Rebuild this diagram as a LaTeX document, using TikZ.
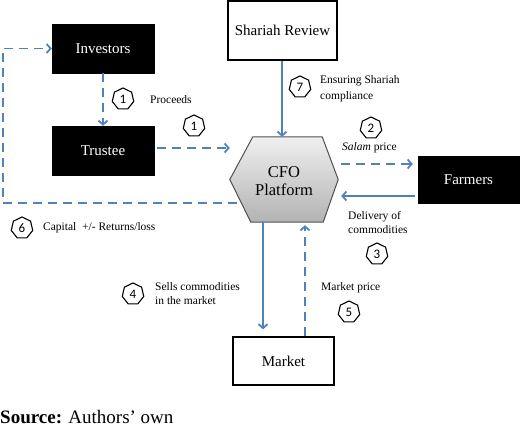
\documentclass[tikz,border=0pt]{standalone}
\usepackage{fontspec}
\setmainfont{Liberation Serif}
\newfontfamily\badgefont{Carlito}
\usetikzlibrary{shapes.geometric,arrows.meta,calc}
\definecolor{arrowblue}{RGB}{79,129,189}
\definecolor{hexedge}{RGB}{80,80,80}
\begin{document}
\begin{tikzpicture}[x=1pt,y=-1pt,
  blackbox/.style={fill=black,draw=black,text=white,minimum width=102pt,minimum height=49pt,inner sep=0pt,font=\fontsize{15}{18}\selectfont},
  whitebox/.style={fill=white,draw=black,line width=1.3pt,inner sep=0pt,font=\fontsize{15}{18}\selectfont},
  badge/.style={regular polygon,regular polygon sides=7,draw=black,line width=1.1pt,minimum size=22pt,inner sep=0pt,font=\badgefont\fontsize{13}{15}\selectfont},
  lbl/.style={anchor=west,inner sep=0pt,align=left,font=\fontsize{11.5}{14}\selectfont},
  flow/.style={draw=arrowblue,line width=1.8pt,-{Straight Barb[length=4pt,width=9pt]}},
  dflow/.style={flow,dash pattern=on 9pt off 6pt},
  hexstyle/.style={draw=hexedge,line width=1pt,top color=gray!12,bottom color=gray!60}]
\useasboundingbox (0,0) rectangle (520,427);
% boxes
\node[blackbox] (inv) at (103,48.5) {Investors};
\node[blackbox] (tru) at (103,150.5) {Trustee};
\node[whitebox,minimum width=109pt,minimum height=59pt] (sha) at (282.5,30.5) {Shariah Review};
\node[blackbox,minimum width=101pt,minimum height=47pt] (far) at (468.5,179.5) {Farmers};
\node[whitebox,minimum width=101pt,minimum height=48pt] (mkt) at (283.5,361) {Market};
\node[minimum width=108pt,minimum height=85pt,inner sep=0pt] (cfo) at (284,179.5) {};
\draw[hexstyle] (cfo.west) -- ($(cfo.north west)+(23,0)$) -- ($(cfo.north east)+(-16,0)$) -- (cfo.east) -- ($(cfo.south east)+(-15,0)$) -- ($(cfo.south west)+(21,0)$) -- cycle;
\node[align=center,inner sep=0pt,font=\fontsize{16.5}{18}\selectfont] (cfotext) at (284,181) {CFO\\Platform};
% connectors
\draw[dflow] (inv.south) -- (tru.north);
\draw[dflow,shorten <=3pt] ($(tru.east)+(0,-2.5)$) -- ($(cfo.west |- tru.east)+(0,-2.5)$);
\coordinate (loopstart) at ($(cfo.west)+(7,23.5)$);
\draw[dflow] (loopstart) -| ($(inv.west)+(-49,0)$) -- (inv.west);
\draw[flow] ($(sha.south)+(-0.5,0)$) -- ($(sha.south |- cfo.north)+(-0.5,0)$);
\draw[dflow] ($(cfo.east)+(3,-15.5)$) -- ($(far.west)+(-5,-15.5)$);
\draw[flow] ($(far.west)+(-3,16.5)$) -- ($(cfo.east)+(3,16.5)$);
\draw[flow,shorten >=7pt] ($(cfo.south)+(-21,0)$) -- ($(mkt.north)+(-20.5,0)$);
\draw[dflow,shorten >=3pt] ($(mkt.north)+(21.5,0)$) -- ($(cfo.south)+(21,0)$);
% labels
\node[badge] (b1a) at (123,99) {1};
\node[lbl] (l1) at (150,100) {Proceeds};
\node[badge] (b1b) at (194,126) {1};
\node[badge] (b7) at (300,87) {7};
\node[lbl,font=\fontsize{11.5}{16}\selectfont] (l7) at (320,89) {Ensuring Shariah\\compliance};
\node[badge] (b2) at (371,128) {2};
\node[lbl] (l2) at (342,148) {\textit{Salam} price};
\node[lbl] (l3) at (348,222.5) {Delivery of\\commodities};
\node[badge] (b3) at (377,254) {3};
\node[lbl] (l5) at (321,288) {Market price};
\node[badge] (b5) at (349,312) {5};
\node[badge] (b4) at (133,294) {4};
\node[lbl] (l4) at (155,294) {Sells commodities\\in the market};
\node[badge] (b6) at (22,228) {6};
\node[lbl] (l6) at (43,228) {Capital\ \ +/- Returns/loss};
\node[anchor=base west,inner sep=0pt,font=\fontsize{19}{21}\selectfont] (src) at (0,424) {\textbf{Source:} Authors’ own};
\end{tikzpicture}
\end{document}
